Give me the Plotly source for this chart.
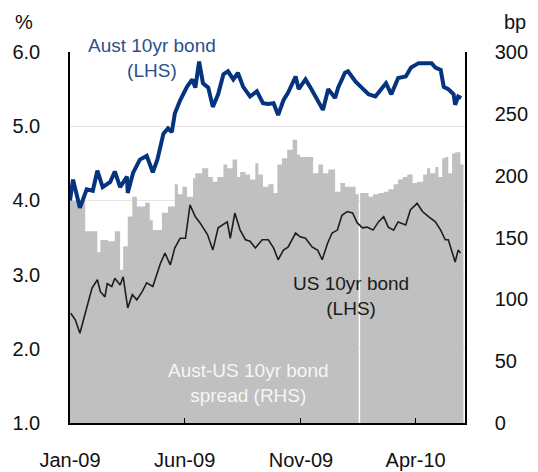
import pandas as pd
import plotly.graph_objects as go

BASE = pd.Timestamp("2009-01-01")

# Aust 10yr bond yield (%), day offsets from 1 Jan 2009
AUS_DAY = [0, 4, 13, 22, 30, 36, 43, 53, 59, 66, 75, 76, 83, 92, 101, 109, 115, 123, 129, 134,
           138, 145, 154, 161, 165, 170, 175, 182, 188, 195, 202, 208, 215, 221, 228, 237, 246,
           254, 261, 268, 274, 281, 287, 297, 301, 310, 316, 323, 333, 340, 349, 353, 362, 366,
           376, 384, 393, 402, 409, 416, 423, 432, 442, 449, 459, 468, 476, 481, 488, 492, 498,
           505, 507, 511, 515]
AUS_VAL = [4.00, 4.28, 3.90, 4.15, 4.13, 4.40, 4.18, 4.25, 4.39, 4.18, 4.32, 4.10, 4.37, 4.55,
           4.60, 4.38, 4.55, 4.90, 4.97, 4.92, 5.17, 5.35, 5.53, 5.63, 5.52, 5.87, 5.58, 5.52,
           5.26, 5.43, 5.70, 5.74, 5.63, 5.72, 5.53, 5.40, 5.47, 5.31, 5.30, 5.31, 5.15, 5.35,
           5.45, 5.67, 5.50, 5.63, 5.53, 5.40, 5.22, 5.50, 5.38, 5.52, 5.72, 5.74, 5.60, 5.52,
           5.43, 5.40, 5.50, 5.58, 5.43, 5.65, 5.67, 5.79, 5.85, 5.85, 5.85, 5.79, 5.76, 5.53,
           5.50, 5.43, 5.29, 5.40, 5.38]

# US 10yr bond yield (%)
US_DAY = [1, 7, 13, 20, 24, 29, 36, 40, 46, 49, 55, 59, 66, 70, 76, 82, 88, 95, 101, 109, 119,
          125, 132, 138, 145, 152, 158, 165, 171, 181, 188, 195, 207, 211, 217, 224, 231, 237,
          244, 253, 261, 268, 274, 281, 287, 297, 303, 310, 319, 326, 332, 339, 345, 352, 358,
          365, 372, 378, 385, 391, 399, 406, 413, 419, 426, 432, 442, 448, 457, 464, 472, 481,
          488, 494, 498, 503, 507, 511, 514]
US_VAL = [2.48, 2.39, 2.21, 2.48, 2.62, 2.82, 2.93, 2.77, 2.70, 2.88, 2.84, 2.95, 2.86, 2.97,
          2.55, 2.73, 2.66, 2.77, 2.89, 2.84, 3.15, 3.29, 3.13, 3.36, 3.49, 3.49, 3.94, 3.78,
          3.70, 3.54, 3.33, 3.63, 3.71, 3.49, 3.83, 3.60, 3.47, 3.45, 3.36, 3.47, 3.47, 3.36,
          3.20, 3.33, 3.37, 3.56, 3.51, 3.49, 3.37, 3.33, 3.20, 3.42, 3.56, 3.60, 3.80, 3.85,
          3.83, 3.70, 3.63, 3.64, 3.60, 3.71, 3.78, 3.64, 3.60, 3.71, 3.67, 3.87, 3.96, 3.85,
          3.78, 3.71, 3.60, 3.47, 3.47, 3.31, 3.17, 3.33, 3.29]

# Aust-US 10yr spread (bp), stepped
SPR_DAY = [0, 20, 36, 40, 50, 59, 66, 70, 76, 82, 88, 99, 105, 109, 121, 129, 138, 142, 148,
           154, 162, 165, 174, 182, 188, 194, 202, 207, 214, 220, 224, 231, 237, 244, 248, 254,
           261, 268, 273, 279, 286, 293, 299, 303, 320, 327, 333, 340, 349, 356, 362, 376, 380,
           382, 393, 399, 406, 413, 419, 426, 432, 438, 444, 451, 457, 465, 470, 474, 481, 485,
           490, 494, 498, 503, 507, 514, 518]
SPR_VAL = [180, 155, 138, 148, 147, 155, 124, 143, 167, 183, 175, 178, 164, 156, 170, 175, 193,
           185, 191, 183, 198, 202, 206, 199, 195, 199, 209, 206, 213, 199, 203, 201, 197, 210,
           201, 191, 193, 186, 209, 214, 221, 229, 217, 215, 202, 209, 202, 205, 187, 194, 191,
           185, 0, 186, 183, 185, 186, 187, 189, 193, 197, 199, 201, 194, 195, 201, 206, 202,
           207, 199, 214, 215, 202, 218, 219, 209, 209]

TICK_DATES = ["2009-01-01", "2009-06-01", "2009-11-01", "2010-04-01"]
TICK_TEXT = ["Jan-09", "Jun-09", "Nov-09", "Apr-10"]
PCT_TICKS = [1, 2, 3, 4, 5, 6]
BP_TICKS = [0, 50, 100, 150, 200, 250, 300]


def to_dates(days):
    return [BASE + pd.Timedelta(days=d) for d in days]


FONT = "Arial, Liberation Sans, sans-serif"
# page body has an 8px margin; figure is offset by (8, 8)
OFF = 8
W, H = 538 - OFF, 472 - OFF
ML, MR, MT, MB = 70 - OFF, 73, 52 - OFF, 49

fig = go.Figure()
fig.add_trace(go.Scatter(
    x=to_dates(SPR_DAY), y=SPR_VAL, yaxis="y", mode="lines",
    line=dict(shape="hv", width=0, color="#c0c0c0"),
    fill="tozeroy", fillcolor="#c0c0c0", hoverinfo="skip", showlegend=False))
fig.add_trace(go.Scatter(
    x=to_dates(US_DAY), y=US_VAL, yaxis="y2", mode="lines",
    line=dict(color="#1e1e1e", width=1.6), showlegend=False))
fig.add_trace(go.Scatter(
    x=to_dates(AUS_DAY), y=AUS_VAL, yaxis="y2", mode="lines",
    line=dict(color="#06337f", width=4), showlegend=False))

fig.update_layout(
    width=W, height=H,
    margin=dict(l=ML, r=MR, t=MT, b=MB, autoexpand=False),
    paper_bgcolor="white", plot_bgcolor="white",
    font=dict(family=FONT, size=20, color="#111"),
    xaxis=dict(type="date", range=["2009-01-01", "2010-06-05"],
               tickvals=TICK_DATES, ticktext=TICK_TEXT,
               ticks="inside", ticklen=5, tickcolor="black", tickwidth=1.3,
               showline=True, linecolor="black", linewidth=1.5, automargin=False,
               showgrid=False, zeroline=False, ticklabelstandoff=18),
    yaxis=dict(side="right", range=[0, 300], tickvals=BP_TICKS, automargin=False,
               ticks="", showline=True, linecolor="black", linewidth=1.5,
               showgrid=False, zeroline=False, ticklabelstandoff=24),
    yaxis2=dict(side="left", overlaying="y", range=[1, 6], tickvals=PCT_TICKS,
                ticktext=[f"{v:.1f}" for v in PCT_TICKS], automargin=False,
                ticks="", showline=True, linecolor="black", linewidth=1.5,
                showgrid=True, gridcolor="#e4e4e4", gridwidth=1,
                zeroline=False, ticklabelstandoff=24),
    showlegend=False,
)

PX0, PX1, PY0, PY1 = 70, 465, 52, 423  # plot area in page pixels
ann = [
    dict(text="%", x=24, y=22),
    dict(text="bp", x=515, y=22),
    dict(text="Aust 10yr bond<br>(LHS)", x=152, y=58, color="#2e4f8e"),
    dict(text="US 10yr bond<br>(LHS)", x=351, y=296, color="#1a1a1a"),
    dict(text="Aust-US 10yr bond<br>spread (RHS)", x=248, y=383, color="#f6f6f6"),
]
for a in ann:
    fig.add_annotation(text=a["text"], xref="paper", yref="paper",
                       x=(a["x"] - PX0) / (PX1 - PX0),
                       y=1 - (a["y"] - PY0) / (PY1 - PY0),
                       showarrow=False, xanchor="center", yanchor="middle",
                       font=dict(family=FONT, size=19 if "<br>" in a["text"] else 20,
                                 color=a.get("color", "#111")),
                       align="center")

fig.write_html("out.html")
